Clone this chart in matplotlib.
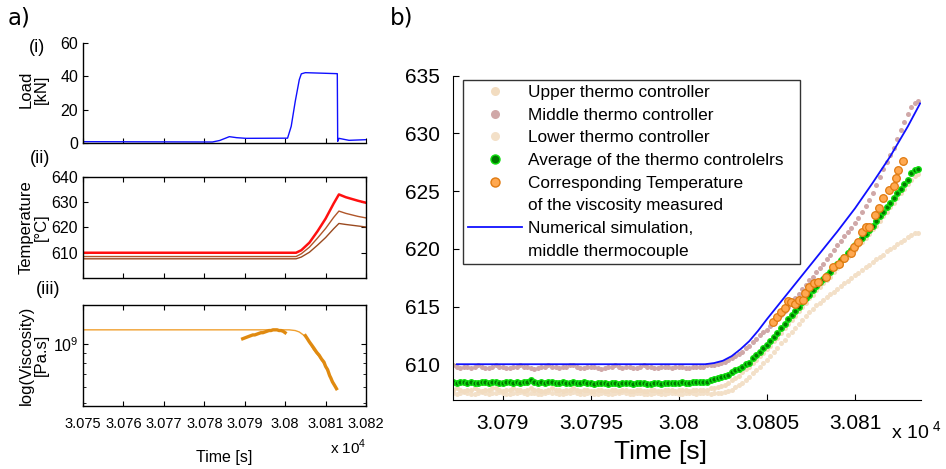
import numpy as np
import matplotlib
matplotlib.use('Agg')
import matplotlib.pyplot as plt
from matplotlib.lines import Line2D
from matplotlib.ticker import FuncFormatter, FixedLocator, NullFormatter

SANS = ['Liberation Sans', 'DejaVu Sans']
plt.rcParams['font.family'] = SANS
plt.rcParams['mathtext.fontset'] = 'custom'
plt.rcParams['mathtext.rm'] = 'Liberation Sans'

# ---------------- panel a data ----------------
load_t = [30750, 30782, 30783.8, 30786.2, 30788, 30790.3, 30800.6, 30801.5, 30802.5,
          30803.5, 30804.0, 30805.0, 30812.9, 30813.0, 30813.3, 30815.8, 30820]
load_kN = [0.8, 0.6, 1.5, 3.8, 3.2, 2.8, 2.9, 10, 25, 38, 41.5, 42.2, 41.6, 1.0, 2.8, 1.6, 2.0]

temp_t = [30750, 30802.7, 30804, 30806, 30808, 30810, 30812, 30813.3, 30815, 30818, 30820]
temp_sim = [610, 610, 611, 614, 618.5, 623.5, 629.5, 633.1, 632.0, 630.6, 629.8]
temp_mid = [608.5, 608.5, 609.6, 612.2, 615.8, 619.6, 624.0, 626.5, 625.6, 624.4, 623.8]
temp_low = [607.6, 607.6, 608.3, 610.2, 613.0, 616.0, 619.5, 621.6, 621.2, 620.6, 620.2]

visc_line_t = [30750, 30801, 30802.5, 30803.5, 30804.5, 30805.5, 30807, 30808.5,
               30810, 30811.3, 30812.7]
visc_line = [1.19e9, 1.19e9, 1.18e9, 1.16e9, 1.12e9, 1.07e9, 9.4e8, 8.6e8,
             7.7e8, 6.7e8, 5.9e8]
visc_pts_t = [30789.5, 30790, 30790.5, 30791, 30791.5, 30792, 30792.5, 30793, 30793.5,
              30794, 30794.5, 30795, 30795.5, 30796, 30796.5, 30797, 30797.5, 30798,
              30798.5, 30799, 30799.5, 30800,
              30805.0, 30805.5, 30806, 30806.6, 30807.2, 30807.8, 30808.4, 30809,
              30809.6, 30810, 30810.5, 30811, 30811.3, 30811.7, 30812.1, 30812.4, 30812.7]
visc_pts = [1.07e9, 1.08e9, 1.09e9, 1.10e9, 1.11e9, 1.12e9, 1.12e9, 1.13e9, 1.14e9,
            1.15e9, 1.15e9, 1.16e9, 1.17e9, 1.18e9, 1.18e9, 1.19e9, 1.19e9, 1.19e9,
            1.18e9, 1.18e9, 1.17e9, 1.15e9,
            1.11e9, 1.07e9, 1.03e9, 9.9e8, 9.5e8, 9.1e8, 8.8e8, 8.4e8,
            8.1e8, 7.7e8, 7.4e8, 6.9e8, 6.7e8, 6.4e8, 6.2e8, 6.05e8, 5.9e8]

# ---------------- panel b data ----------------
# thermocouples sampled every 0.2 s starting at 30787.2 s
t_start = 30787.2
t_step = 0.2

upper_T = [
    607.8, 607.9, 607.8, 607.7, 607.8, 607.8, 607.9, 607.8, 607.7, 607.8,
    607.8, 607.9, 607.9, 607.8, 607.7, 607.8, 607.8, 607.9, 607.8, 607.8,
    607.7, 607.8, 607.9, 607.8, 607.8, 607.7, 607.7, 607.8, 607.9, 607.8,
    607.8, 607.7, 607.8, 607.8, 607.9, 607.8, 607.7, 607.8, 607.8, 607.7,
    607.7, 607.8, 607.8, 607.7, 607.7, 607.8, 607.8, 607.7, 607.8, 607.8,
    607.7, 607.7, 607.8, 607.8, 607.7, 607.7, 607.8, 607.8, 607.7, 607.7,
    607.8, 607.8, 607.8, 607.7, 607.8, 607.8, 607.8, 607.7, 607.8, 607.8,
    607.8, 607.8, 607.8, 607.9,
    607.9, 608.0, 608.1, 608.2, 608.4, 608.6, 608.8, 609.0, 609.3, 609.6,
    609.8, 610.1, 610.4, 610.7, 611.0, 611.3, 611.6, 612.0, 612.3, 612.7,
    613.1, 613.5, 613.8, 614.2, 614.6, 615.0, 615.3, 615.7, 616.0, 616.4,
    616.7, 617.0, 617.3, 617.6, 618.0, 618.3, 618.6, 619.0, 619.3, 619.6,
    619.9, 620.3, 620.6, 620.9, 621.3, 621.7, 622.0, 622.4, 622.8, 623.2,
    623.6, 624.0, 624.4, 624.8, 625.2, 625.6, 626.0, 626.3, 626.5]

middle_T = [
    609.9, 609.8, 609.7, 609.8, 609.8, 609.7, 609.8, 609.9, 609.8, 609.7,
    609.7, 609.8, 609.9, 609.8, 609.8, 609.7, 609.7, 609.8, 609.8, 609.9,
    609.8, 609.8, 609.7, 609.6, 609.7, 609.8, 609.8, 609.9, 609.8, 609.8,
    609.7, 609.8, 609.8, 609.9, 609.9, 609.8, 609.7, 609.7, 609.8, 609.8,
    609.8, 609.7, 609.6, 609.7, 609.8, 609.8, 609.9, 609.8, 609.7, 609.8,
    609.8, 609.7, 609.7, 609.8, 609.9, 609.8, 609.8, 609.7, 609.7, 609.8,
    609.8, 609.8, 609.7, 609.8, 609.8, 609.8, 609.7, 609.7, 609.8, 609.8,
    609.8, 609.8, 609.9, 609.9,
    609.9, 610.0, 610.1, 610.2, 610.4, 610.5, 610.7, 610.9, 611.1, 611.4,
    611.6, 611.9, 612.2, 612.5, 612.8, 613.0, 613.3, 613.6, 613.9, 614.3,
    614.6, 615.0, 615.3, 615.7, 616.1, 616.5, 616.9, 617.3, 617.6, 618.0,
    618.3, 618.7, 619.1, 619.5, 619.9, 620.3, 620.7, 621.1, 621.5, 621.8,
    622.2, 622.7, 623.2, 623.7, 624.2, 624.8, 625.5, 626.2, 626.9, 627.5,
    628.1, 628.7, 629.5, 630.3, 631.0, 631.7, 632.3, 632.6, 632.8]

lower_T = [
    607.5, 607.4, 607.5, 607.6, 607.5, 607.4, 607.4, 607.5, 607.6, 607.5,
    607.4, 607.5, 607.5, 607.6, 607.5, 607.4, 607.4, 607.5, 607.5, 607.6,
    607.5, 607.4, 607.5, 607.5, 607.4, 607.4, 607.5, 607.6, 607.5, 607.5,
    607.4, 607.4, 607.5, 607.5, 607.6, 607.5, 607.4, 607.4, 607.5, 607.5,
    607.4, 607.4, 607.5, 607.5, 607.4, 607.4, 607.5, 607.5, 607.6, 607.5,
    607.4, 607.4, 607.5, 607.5, 607.4, 607.4, 607.4, 607.5, 607.5, 607.4,
    607.4, 607.5, 607.5, 607.5, 607.4, 607.4, 607.5, 607.5, 607.5, 607.4,
    607.5, 607.5, 607.5, 607.4, 607.5, 607.5, 607.5,
    607.6, 607.7, 607.8, 608.0, 608.2, 608.4, 608.6, 608.9, 609.2, 609.5,
    609.8, 610.1, 610.4, 610.7, 611.1, 611.4, 611.8, 612.1, 612.5, 612.8,
    613.1, 613.5, 613.8, 614.2, 614.5, 614.8, 615.1, 615.3, 615.6, 615.8,
    616.1, 616.3, 616.5, 616.8, 617.0, 617.2, 617.5, 617.7, 617.9, 618.2,
    618.4, 618.6, 618.9, 619.1, 619.3, 619.5, 619.8, 620.0, 620.2, 620.4,
    620.6, 620.8, 621.0, 621.2, 621.4, 621.4]

avg_T = [
    608.5, 608.4, 608.5, 608.5, 608.4, 608.5, 608.4, 608.4, 608.5, 608.5,
    608.4, 608.5, 608.5, 608.4, 608.4, 608.5, 608.5, 608.4, 608.5, 608.4,
    608.5, 608.5, 608.6, 608.5, 608.4, 608.5, 608.4, 608.5, 608.5, 608.4,
    608.4, 608.5, 608.4, 608.4, 608.5, 608.4, 608.4, 608.5, 608.4, 608.4,
    608.3, 608.4, 608.4, 608.4, 608.3, 608.4, 608.4, 608.3, 608.4, 608.4,
    608.4, 608.3, 608.4, 608.4, 608.4, 608.3, 608.3, 608.4, 608.4, 608.3,
    608.4, 608.4, 608.4, 608.4, 608.4, 608.5, 608.4, 608.4, 608.5, 608.5,
    608.5, 608.5,
    608.5, 608.6, 608.7, 608.8, 608.9, 609.0, 609.1, 609.3, 609.5, 609.6,
    609.8, 610.0, 610.1, 610.5, 610.8, 611.1, 611.4, 611.7, 612.0, 612.4,
    612.7, 613.1, 613.5, 613.9, 614.3, 614.6, 615.0, 615.4, 615.7, 616.0,
    616.4, 616.8, 617.1, 617.4, 617.7, 618.0, 618.4, 618.7, 619.0, 619.3,
    619.6, 619.9, 620.3, 620.6, 620.9, 621.3, 621.6, 622.0, 622.4, 622.8,
    623.2, 623.6, 624.0, 624.4, 624.8, 625.2, 625.6, 626.0, 626.6, 626.8,
    626.9]

visc_temp_t = [30805.37, 30805.6, 30805.8, 30806.0, 30806.18, 30806.38, 30806.62, 30806.81,
               30807.04, 30807.19, 30807.41, 30807.7, 30807.9, 30808.36, 30808.73, 30809.1,
               30809.4, 30809.78, 30809.96, 30810.2, 30810.4, 30810.6, 30810.8, 30811.15,
               30811.37, 30811.6, 30811.94, 30812.2, 30812.35, 30812.47, 30812.75]
visc_temp_T = [613.7, 614.1, 614.5, 614.9, 615.5, 615.4, 615.2, 615.6,
               615.6, 616.2, 616.7, 617.0, 617.1, 617.6, 618.4, 618.7,
               619.2, 619.6, 620.2, 620.6, 621.5, 621.9, 621.9, 622.9,
               623.5, 624.4, 625.1, 625.4, 626.1, 626.8, 627.6]

sim_t = [30787.4, 30801.5, 30802.0, 30802.5, 30803.0, 30803.5, 30804.0, 30804.5, 30805.0,
         30806.0, 30807.0, 30808.0, 30809.0, 30810.0, 30811.0, 30812.0, 30813.0, 30813.7]
sim_T = [610.0, 610.0, 610.1, 610.3, 610.7, 611.3, 612.0, 612.9, 613.9,
         615.8, 617.7, 619.6, 621.5, 623.5, 625.7, 628.0, 630.6, 632.6]

t_b = t_start + t_step * np.arange(len(avg_T))

# ---------------- figure ----------------
W, H = 946.0, 469.0
fig = plt.figure(figsize=(W / 100, H / 100), dpi=100)


def box(l, t, r, b):
    return [l / W, 1 - b / H, (r - l) / W, (b - t) / H]


tfmt = FuncFormatter(lambda v, p: '%g' % (v / 1e4))


def style_a(ax):
    ax.tick_params(direction='in', length=3.5, width=0.8, labelsize=10.5,
                   top=True, right=True)
    for s in ax.spines.values():
        s.set_linewidth(1.0)


# (i) load
ax1 = fig.add_axes(box(83, 43, 366, 143))
ax1.plot(load_t, load_kN, color='#1010ff', lw=1.0)
ax1.set_xlim(30750, 30820)
ax1.set_ylim(0, 60)
ax1.set_yticks([0, 20, 40, 60])
ax1.set_xticks(np.arange(30750, 30821, 10))
ax1.set_xticklabels([])
ax1.spines['top'].set_visible(False)
ax1.spines['right'].set_visible(False)
style_a(ax1)
ax1.tick_params(top=False, right=False, labelsize=11.5)

# (ii) temperature
ax2 = fig.add_axes(box(83, 177, 366, 278))
ax2.plot(temp_t, temp_low, color='#9a4a20', lw=1.0)
ax2.plot(temp_t, temp_mid, color='#b0562a', lw=1.0)
ax2.plot(temp_t, temp_sim, color='#ff1010', lw=1.8)
ax2.set_xlim(30750, 30820)
ax2.set_ylim(600, 640)
ax2.set_yticks([610, 620, 630, 640])
ax2.set_xticks(np.arange(30750, 30821, 10))
ax2.set_xticklabels([])
style_a(ax2)
ax2.tick_params(labelsize=11.5)

# (iii) viscosity
ax3 = fig.add_axes(box(83, 305, 366, 406))
ax3.set_yscale('log')
ax3.plot(visc_line_t, visc_line, color='#f0a030', lw=1.0)
ax3.plot(visc_pts_t[:22], visc_pts[:22], color='#e08a10', lw=2.4)
ax3.plot(visc_pts_t[22:], visc_pts[22:], color='#e08a10', lw=2.4)
ax3.set_xlim(30750, 30820)
ax3.set_ylim(4.8e8, 1.6e9)
ax3.yaxis.set_major_locator(FixedLocator([1e9]))
ax3.yaxis.set_major_formatter(FuncFormatter(lambda v, p: '$10^9$'))
ax3.yaxis.set_minor_locator(FixedLocator([5e8, 6e8, 7e8, 8e8, 9e8]))
ax3.yaxis.set_minor_formatter(NullFormatter())
ax3.set_xticks(np.arange(30750, 30821, 10))
ax3.xaxis.set_major_formatter(tfmt)
style_a(ax3)
ax3.tick_params(axis='y', labelsize=11.5)
ax3.tick_params(which='minor', direction='in', length=2.5, right=True)
ax3.tick_params(axis='x', pad=8)

fig.text(8 / W, 1 - 18 / H, 'a)', fontsize=16.5, va='center', family=['DejaVu Sans'])
fig.text(390 / W, 1 - 18 / H, 'b)', fontsize=16.5, va='center', family=['DejaVu Sans'])
fig.text(37 / W, 1 - 47 / H, '(i)', fontsize=13, ha='center', va='center')
fig.text(40 / W, 1 - 158 / H, '(ii)', fontsize=13, ha='center', va='center')
fig.text(48 / W, 1 - 289 / H, '(iii)', fontsize=13, ha='center', va='center')
fig.text(34 / W, 1 - 89 / H, 'Load\n[kN]', rotation=90, fontsize=12, ha='center',
         va='center', multialignment='center', linespacing=1.05)
fig.text(34 / W, 1 - 227 / H, 'Temperature\n[°C]', rotation=90, fontsize=12, ha='center',
         va='center', multialignment='center', linespacing=1.05)
fig.text(34 / W, 1 - 355 / H, 'log(Viscosity)\n[Pa.s]', rotation=90, fontsize=12,
         ha='center', va='center', multialignment='center', linespacing=1.05)
fig.text(224 / W, 1 - 457 / H, 'Time [s]', fontsize=11.5, ha='center', va='center')
fig.text(367 / W, 1 - 447 / H, 'x 10$^4$', fontsize=11, ha='right', va='center')

# ---------------- panel b ----------------
axb = fig.add_axes(box(452.5, 75.7, 921, 400))
beige = '#f2dcc0'
axb.plot(t_b, lower_T, 'o', ms=3.6, color='#f3e0c8', mec='none')
axb.plot(t_b, upper_T, 'o', ms=3.6, color=beige, mec='none')
axb.plot(t_b, middle_T, 'o', ms=3.6, color='#d0a8a8', mec='none')
axb.plot(t_b, avg_T, 'o', ms=4.0, mfc='#007a00', mec='#10e010', mew=1.0, ls='none')
axb.plot(visc_temp_t, visc_temp_T, 'o', ms=5.5, mfc='#ffa850', mec='#e07a10', mew=0.9, ls='none')
axb.plot(sim_t, sim_T, color='#1010ff', lw=1.3)
axb.set_xlim(30787.15, 30813.75)
axb.set_ylim(606.9, 635)
axb.set_yticks([610, 615, 620, 625, 630, 635])
axb.set_xticks([30790, 30795, 30800, 30805, 30810])
axb.xaxis.set_major_formatter(tfmt)
axb.spines['top'].set_visible(False)
axb.spines['right'].set_visible(False)
axb.tick_params(direction='in', length=4, width=0.8, labelsize=15)
axb.tick_params(axis='y', pad=9)
axb.tick_params(axis='x', pad=10)

handles = [
    Line2D([], [], ls='none', marker='o', ms=6.5, color=beige, mec='none'),
    Line2D([], [], ls='none', marker='o', ms=6.5, color='#d0a8a8', mec='none'),
    Line2D([], [], ls='none', marker='o', ms=6.5, color='#f3e0c8', mec='none'),
    Line2D([], [], ls='none', marker='o', ms=6.5, mfc='#007a00', mec='#10e010', mew=1.0),
    Line2D([], [], ls='none', marker='o', ms=6.5, mfc='#ffa850', mec='#e07a10', mew=1.0),
    Line2D([], [], ls='none'),
    Line2D([], [], color='#1010ff', lw=1.3),
    Line2D([], [], ls='none'),
]
labels = ['Upper thermo controller', 'Middle thermo controller', 'Lower thermo controller',
          'Average of the thermo controlelrs', 'Corresponding Temperature',
          'of the viscosity measured', 'Numerical simulation,', 'middle thermocouple']
leg = fig.legend(handles, labels, loc='upper left',
                 bbox_to_anchor=(463 / W, 1 - 80 / H, (800 - 463) / W, 0.0),
                 mode='expand', frameon=True, fancybox=False, fontsize=12.4,
                 handlelength=3.1, handletextpad=0.35, labelspacing=0.44,
                 borderpad=0.3, borderaxespad=0.0)
leg.get_frame().set_edgecolor('black')
leg.get_frame().set_linewidth(1.0)

fig.text(660 / W, 1 - 452 / H, 'Time [s]', fontsize=19, ha='center', va='center')
fig.text(942 / W, 1 - 432 / H, 'x 10$^{\\ 4}$', fontsize=14, ha='right', va='center')

fig.savefig('out.png', dpi=100)
